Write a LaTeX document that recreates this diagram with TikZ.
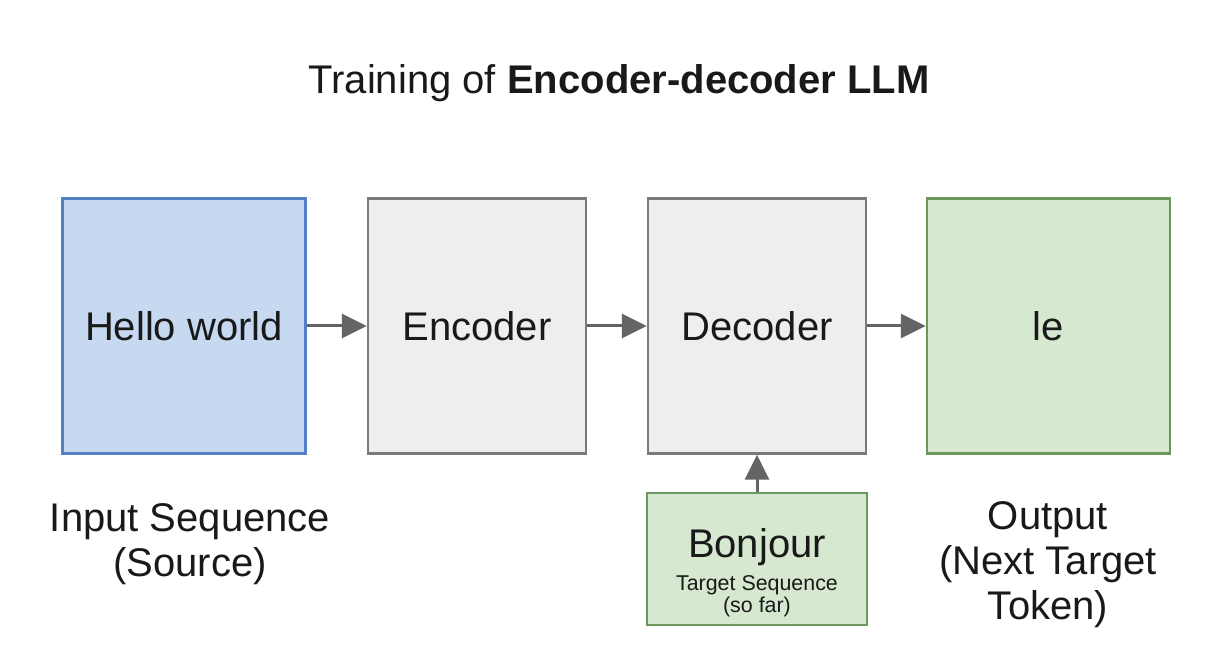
\documentclass[tikz,border=0pt]{standalone}
\usepackage{fontspec}
\setmainfont{Liberation Sans}
\usetikzlibrary{arrows.meta}

\definecolor{srcfill}{RGB}{198,217,241}
\definecolor{srcline}{RGB}{84,128,198}
\definecolor{blkfill}{RGB}{238,238,238}
\definecolor{blkline}{RGB}{122,122,122}
\definecolor{tgtfill}{RGB}{214,232,208}
\definecolor{tgtline}{RGB}{108,152,94}
\definecolor{arrowgray}{RGB}{100,100,100}
\definecolor{ink}{RGB}{25,25,25}

\begin{document}
\begin{tikzpicture}[x=0.5pt,y=-0.5pt,
  big/.style={font=\fontsize{20}{22.5}\selectfont,text=ink,align=center},
  small/.style={font=\fontsize{10.7}{11.2}\selectfont,text=ink,align=center},
  box/.style={rectangle,draw,line width=1.25pt,big,minimum height=127.5pt},
  srcbox/.style={box,fill=srcfill,draw=srcline,minimum width=121.5pt},
  blkbox/.style={box,fill=blkfill,draw=blkline,minimum width=109pt},
  tgtbox/.style={box,fill=tgtfill,draw=tgtline},
  flow/.style={draw=arrowgray,line width=1.5pt,-{Triangle[length=12.5pt,width=12pt]}}]
\useasboundingbox (0,0) rectangle (1217,646);

\node [big] (title) at (619,83) {Training of \textbf{Encoder-decoder LLM}};

\node [srcbox] (hello) at (184,326) {Hello world};
\node [blkbox] (enc) at (477,326) {Encoder};
\node [blkbox] (dec) at (757,326) {Decoder};
\node [tgtbox,minimum width=121.5pt] (out) at (1048.5,326) {le};
\node [tgtbox,minimum width=110pt,minimum height=66pt] (bonjour) at (757,559) {};
\node [big] (bonjourtxt) at (757,547) {Bonjour};
\node [small] (soFar) at (757,596) {Target Sequence\\(so far)};

\node [big] (srclbl) at (190,544) {Input Sequence\\(Source)};
\node [big] (outlbl) at (1048,565) {Output\\(Next Target\\Token)};

\draw [flow] (hello) -- (enc);
\draw [flow] (enc) -- (dec);
\draw [flow] (dec) -- (out);
\draw [flow] (bonjour) -- (dec);
\end{tikzpicture}
\end{document}
